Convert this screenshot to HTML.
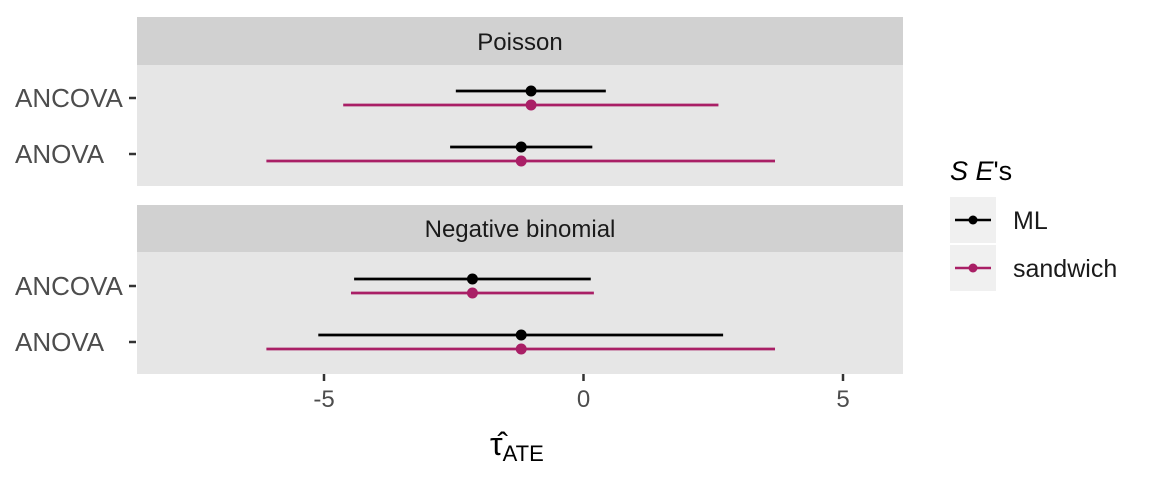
<!DOCTYPE html>
<html><head><meta charset="utf-8"><style>
body{margin:0;background:#fff}
svg text{font-family:"Liberation Sans",Arial,sans-serif}
</style></head><body>
<svg id="chart" width="1152" height="480">
<rect x="137" y="17" width="766" height="48" fill="#d1d1d1"/>
<text x="520" y="50" font-size="24" text-anchor="middle" fill="#1a1a1a">Poisson</text>
<rect x="137" y="65" width="766" height="121" fill="#e6e6e6"/>
<rect x="137" y="205" width="766" height="47" fill="#d1d1d1"/>
<text x="520" y="237" font-size="24" text-anchor="middle" fill="#1a1a1a">Negative binomial</text>
<rect x="137" y="252" width="766" height="122" fill="#e6e6e6"/>
<g id="marks"></g>
<g id="axes"></g>
<text x="490" y="455" font-size="32" fill="#000">τ̂<tspan font-size="22" dy="6">ATE</tspan></text>
<text x="950" y="180" font-size="27" fill="#000"><tspan font-style="italic">S E</tspan>'s</text>
<rect x="950" y="197" width="46" height="46" fill="#f0f0f0"/>
<line x1="955" x2="991" y1="220" y2="220" stroke="#000" stroke-width="2.5"/>
<circle cx="973" cy="220" r="4.5" fill="#000"/>
<text x="1013" y="229" font-size="25" fill="#1a1a1a">ML</text>
<rect x="950" y="245" width="46" height="46" fill="#f0f0f0"/>
<line x1="955" x2="991" y1="268" y2="268" stroke="#a91f66" stroke-width="2.5"/>
<circle cx="973" cy="268" r="4.5" fill="#a91f66"/>
<text x="1013" y="277" font-size="25" fill="#1a1a1a">sandwich</text>
</svg>
<script>
const panels=["Poisson","Negative binomial"];
const models=["ANCOVA","ANOVA"];
const mlEst=[[-1.01,-1.2],[-2.14,-1.2]];
const mlLo=[[-2.46,-2.57],[-4.42,-5.11]];
const mlHi=[[0.43,0.17],[0.14,2.69]];
const swEst=[[-1.01,-1.2],[-2.14,-1.2]];
const swLo=[[-4.63,-6.11],[-4.48,-6.11]];
const swHi=[[2.6,3.69],[0.2,3.69]];
const xTicks=[-5,0,5];
const xs=v=>583.5+v*51.9;
const rowY=[[98,154],[286,342]];
const NS="http://www.w3.org/2000/svg";
function mk(t,a,p){const e=document.createElementNS(NS,t);for(const k in a)e.setAttribute(k,a[k]);document.getElementById(p).appendChild(e);return e;}
for(let p=0;p<2;p++){
  models.forEach((m,i)=>{
    const y=rowY[p][i];
    const tk=mk('line',{x1:129,x2:136,y1:y,y2:y,stroke:'#333','stroke-width':2.5},'axes');
    
    
    const tl=mk('text',{x:15,y:y+9,'font-size':26,fill:'#4d4d4d'},'axes');
    tl.textContent=m;
    
    
    [[mlLo,mlHi,mlEst,'#000',-7,'ml'],[swLo,swHi,swEst,'#a91f66',7,'sandwich']].forEach(s=>{
      const yy=y+s[4];
      const l=mk('line',{x1:xs(s[0][p][i]),x2:xs(s[1][p][i]),y1:yy,y2:yy,stroke:s[3],'stroke-width':2.8},'marks');
      
      
      const c=mk('circle',{cx:xs(s[2][p][i]),cy:yy,r:5.5,fill:s[3]},'marks');
      
      
    });
  });
}
xTicks.forEach(t=>{
  const tk=mk('line',{x1:xs(t),x2:xs(t),y1:374,y2:381,stroke:'#333','stroke-width':2.5},'axes');
  
  
  const tl=mk('text',{x:xs(t),y:407,'font-size':24,'text-anchor':'middle',fill:'#4d4d4d'},'axes');
  tl.textContent=t;
  
  
});
</script>
</body></html>
